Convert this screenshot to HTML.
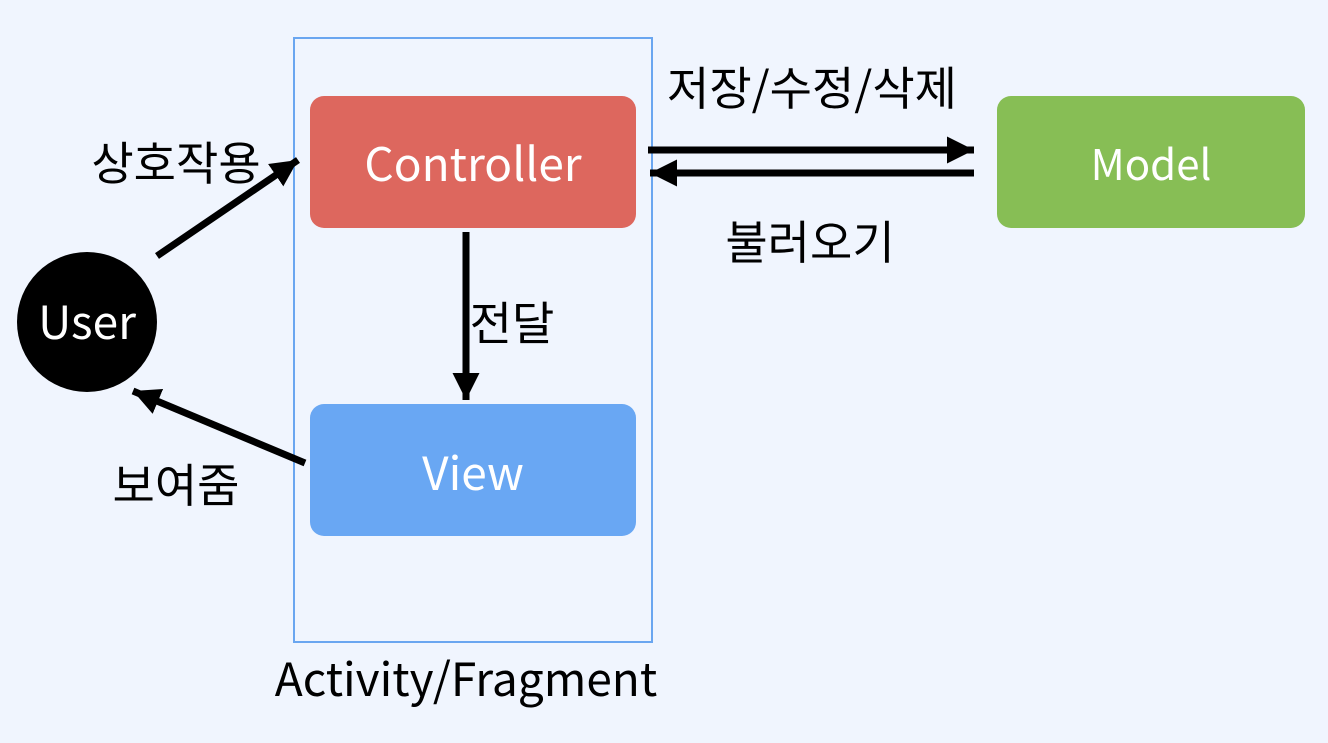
<!DOCTYPE html>
<html><head><meta charset="utf-8"><style>
body{margin:0;width:1328px;height:738px;background:#F0F5FE;overflow:hidden}
svg text{font-family:"Noto Sans CJK KR","Liberation Sans",sans-serif}
</style></head><body>
<svg width="1328" height="738" xmlns="http://www.w3.org/2000/svg">
<defs>
<marker id="h" viewBox="0 0 10 10" refX="10" refY="5" markerWidth="27" markerHeight="27" markerUnits="userSpaceOnUse" orient="auto"><path d="M0,0L10,5L0,10z" fill="#000"/></marker></defs>
<rect x="294" y="38" width="358" height="604" fill="none" stroke="#6AA6F0" stroke-width="2"/>
<rect x="310" y="96" width="326" height="132" rx="14" fill="#DD675E"/>
<rect x="310" y="404" width="326" height="132" rx="14" fill="#69A7F3"/>
<rect x="997" y="96" width="308" height="132" rx="14" fill="#87BE55"/>
<circle cx="87" cy="322" r="70" fill="#000"/>
<g font-size="46" fill="#fff" text-anchor="middle">
<text x="473" y="181">Controller</text>
<text x="473" y="490">View</text>
<text x="1151" y="180" font-size="42">Model</text>
<text x="87" y="339">User</text>
</g>
<g stroke="#000" stroke-width="7" marker-end="url(#h)">
<line x1="648" y1="150" x2="974" y2="150"/>
<line x1="974" y1="173" x2="650" y2="173"/>
<line x1="466" y1="232" x2="466" y2="400"/>
<line x1="157" y1="256" x2="298" y2="160"/>
<line x1="305" y1="463" x2="133" y2="391"/>
</g>
<g font-size="46" fill="#000" text-anchor="middle">
<text x="812" y="105">저장/수정/삭제</text>
<text x="810" y="259">불러오기</text>
<text x="512" y="340">전달</text>
<text x="176" y="180">상호작용</text>
<text x="176" y="502">보여줌</text>
<text x="466" y="696">Activity/Fragment</text>
</g>
</svg>
</body></html>
